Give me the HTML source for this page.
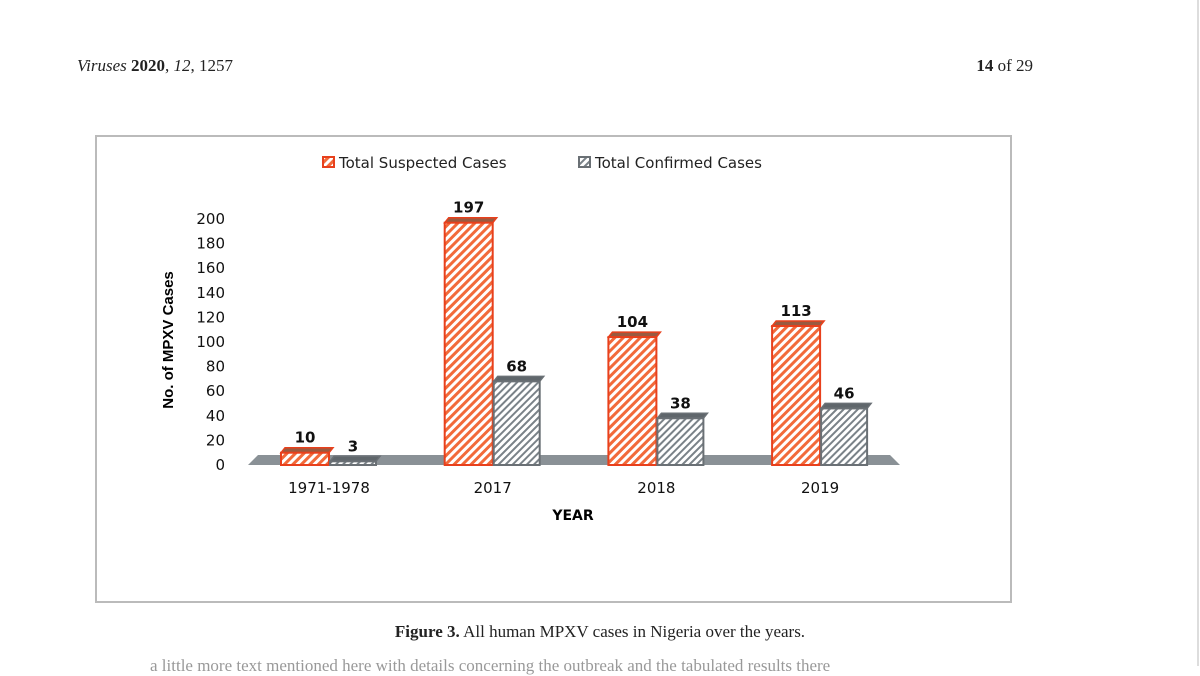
<!DOCTYPE html>
<html><head><meta charset="utf-8"><style>
body{margin:0;background:#fff;width:1200px;height:666px;overflow:hidden;position:relative;font-family:"Liberation Serif",serif}
.hdr{position:absolute;top:56px;font-size:17px;color:#222}
</style></head><body>
<div class="hdr" style="left:77px"><i>Viruses</i> <b>2020</b>, <i>12</i>, 1257</div>
<div class="hdr" style="right:167px"><b>14</b> of 29</div>
<svg width="1200" height="666" style="position:absolute;left:0;top:0">
<defs>
<pattern id="po" width="6" height="6" patternUnits="userSpaceOnUse" patternTransform="rotate(45)"><rect width="6" height="6" fill="#fff"/><rect width="3" height="6" fill="#f26a3a"/></pattern>
<pattern id="pg" width="5" height="5" patternUnits="userSpaceOnUse" patternTransform="rotate(45)"><rect width="5" height="5" fill="#fff"/><rect width="2" height="5" fill="#7a8288"/></pattern>
</defs>
<rect x="96" y="136" width="915" height="466" fill="#fff" stroke="#bbb" stroke-width="2"/>
<line x1="1198" y1="0" x2="1198" y2="666" stroke="#ddd" stroke-width="2"/>
<g id="legend" font-family="DejaVu Sans, sans-serif" font-size="15" fill="#222">
<g><rect x="323" y="157" width="11" height="10" fill="url(#po)" stroke="#e8401c" stroke-width="2"/><text x="339" y="168">Total Suspected Cases</text></g>
<g><rect x="579" y="157" width="11" height="10" fill="url(#pg)" stroke="#6a7075" stroke-width="2"/><text x="595" y="168">Total Confirmed Cases</text></g>
</g>
<polygon points="248,465 258,455 890,455 900,465" fill="#8a9196"/>
<g id="yaxis" font-family="DejaVu Sans, sans-serif" font-size="15" fill="#111" text-anchor="end"></g>
<g id="bars"></g>
<g id="xaxis" font-family="DejaVu Sans, sans-serif" font-size="15" fill="#111" text-anchor="middle"></g>
<text x="573" y="520" font-family="DejaVu Sans, sans-serif" font-size="14" font-weight="bold" text-anchor="middle">YEAR</text>
<text transform="translate(173,340) rotate(-90)" font-family="Liberation Sans, sans-serif" font-size="15" font-weight="bold" text-anchor="middle">No. of MPXV Cases</text>
</svg>
<div style="position:absolute;left:0;width:1200px;top:622px;text-align:center;font-size:17px;color:#222"><b>Figure 3.</b> All human MPXV cases in Nigeria over the years.</div>
<div style="position:absolute;left:150px;top:656px;font-size:17px;color:#999">a little more text mentioned here with details concerning the outbreak and the tabulated results there</div>
<script>
const categories=["1971-1978","2017","2018","2019"];
const suspected=[10,197,104,113];
const confirmed=[3,68,38,46];
const yTicks=[0,20,40,60,80,100,120,140,160,180,200];
const NS="http://www.w3.org/2000/svg";
const y0=465,k=1.23;
const y=v=>y0-v*k;
const cx=i=>329+i*163.7;
const ya=document.getElementById('yaxis');
yTicks.forEach(t=>{const e=document.createElementNS(NS,'text');e.setAttribute('x',225);e.setAttribute('y',y(t)+5);e.textContent=t;


ya.appendChild(e);});
const xa=document.getElementById('xaxis');
categories.forEach((c,i)=>{const e=document.createElementNS(NS,'text');e.setAttribute('x',cx(i));e.setAttribute('y',493);e.textContent=c;


xa.appendChild(e);});
const bg=document.getElementById('bars');
function bar(x,w,v,fill,stroke,label,name,topFill){
 const g=document.createElementNS(NS,'g');
 
 
 const t=y(v);
 const top=document.createElementNS(NS,'polygon');
 top.setAttribute('points',`${x},${t} ${x+4},${t-5} ${x+w+4},${t-5} ${x+w},${t}`);
 top.setAttribute('fill',topFill);top.setAttribute('stroke',stroke);top.setAttribute('stroke-width','1.5');g.appendChild(top);
 const r=document.createElementNS(NS,'rect');
 r.setAttribute('x',x);r.setAttribute('y',t);r.setAttribute('width',w);r.setAttribute('height',y0-t);
 r.setAttribute('fill',fill);r.setAttribute('stroke',stroke);r.setAttribute('stroke-width','2');g.appendChild(r);
 const l=document.createElementNS(NS,'text');
 l.setAttribute('x',x+w/2);l.setAttribute('y',t-10);l.setAttribute('text-anchor','middle');
 l.setAttribute('font-family','DejaVu Sans, sans-serif');l.setAttribute('font-size','15');l.setAttribute('font-weight','bold');l.setAttribute('fill','#111');
 l.textContent=label;g.appendChild(l);bg.appendChild(g);
}
categories.forEach((c,i)=>{
 bar(cx(i)-48,48,suspected[i],'url(#po)','#e8401c',suspected[i],'bar-suspected-'+c,'#9a5a40');
 bar(cx(i)+1,46,confirmed[i],'url(#pg)','#6a7075',confirmed[i],'bar-confirmed-'+c,'#5f666b');
});
</script>
</body></html>
